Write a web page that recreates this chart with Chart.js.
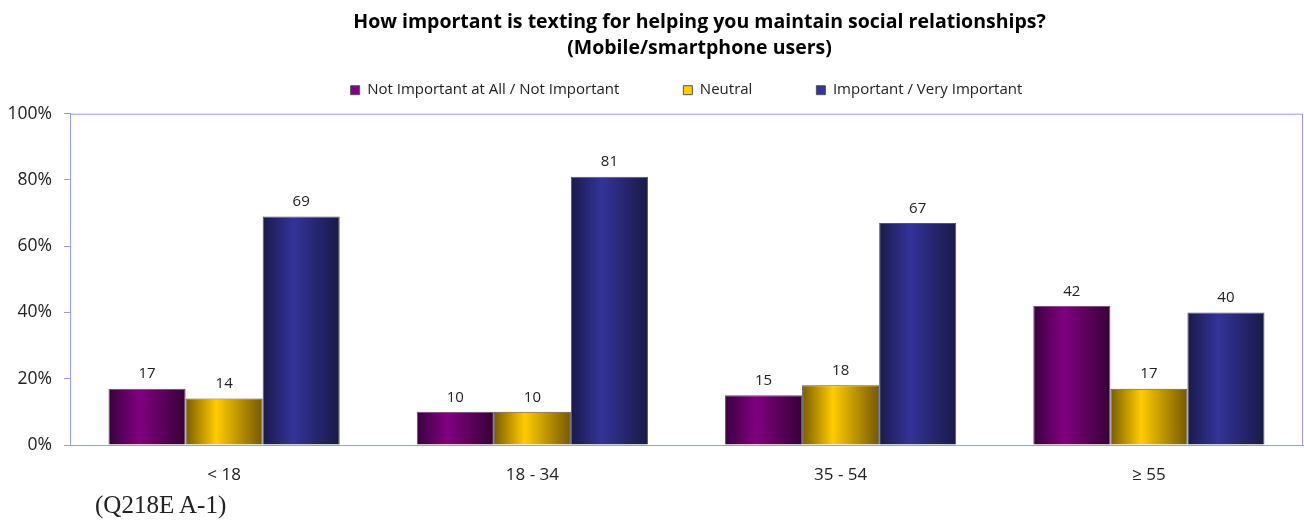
<!DOCTYPE html>
<html>
<head>
<meta charset="utf-8">
<script src="https://cdn.jsdelivr.net/npm/chart.js@4/dist/chart.umd.min.js"></script>
<style>
  html, body { margin: 0; padding: 0; background: #fff; }
  #wrap { position: relative; width: 1304px; height: 523px; }
  #note { position: absolute; left: 95px; top: 489px; font: 25px/32px "Liberation Serif", "DejaVu Serif", serif; color: #222; }
</style>
</head>
<body>
<div id="wrap">
  <canvas id="grafico" width="1304" height="523"></canvas>
  <div id="note">(Q218E A-1)</div>
</div>
<script>
// Dados
const categorias = ["< 18", "18 - 34", "35 - 54", "\u2265 55"];
const naoImportante = [17, 10, 15, 42];
const neutro = [14, 10, 18, 17];
const importante = [69, 81, 67, 40];
const ticksY = [0, 20, 40, 60, 80, 100];

// cores: borda escura, centro claro
const gradientes = [
  ["#3a0040", "#800080", "#360036"],
  ["#7a5c00", "#ffcc00", "#765800"],
  ["#1a1a4c", "#333399", "#191946"],
];

const font = "'Open Sans', 'Noto Sans', sans-serif";
const legendaPad = 64;   // espaço entre itens da legenda
const legendaAltura = 45;
const legendaDesloca = 50;
const tituloDesloca = 48;

// legenda larga sem ficar alta; título um pouco à direita
const ajustePlugin = {
  id: "ajustePlugin",
  beforeUpdate(chart) {
    const lg = chart.legend;
    if (lg && !lg._ajustada) {
      lg._ajustada = true;
      const fit = lg.fit;
      lg.fit = function () {
        fit.call(this);
        this.height = legendaAltura;
      };
      const drawItens = lg._draw;
      lg._draw = function () {
        const c = this.ctx;
        c.save();
        c.translate(0, -legendaDesloca);
        drawItens.call(this);
        c.restore();
      };
    }
    const tb = chart.titleBlock;
    if (tb && !tb._ajustado) {
      tb._ajustado = true;
      const drawT = tb.draw;
      tb.draw = function () {
        const c = this.ctx;
        c.save();
        c.translate(tituloDesloca, 0);
        drawT.call(this);
        c.restore();
      };
    }
  },
};

// pinta cada barra com gradiente horizontal
const gradPlugin = {
  id: "gradPlugin",
  beforeDatasetsDraw(chart) {
    const ctx = chart.ctx;
    chart.data.datasets.forEach((ds, i) => {
      const meta = chart.getDatasetMeta(i);
      const c = gradientes[i];
      meta.data.forEach((el) => {
        const x0 = el.x - el.width / 2;
        const g = ctx.createLinearGradient(x0, 0, x0 + el.width, 0);
        g.addColorStop(0, c[0]);
        g.addColorStop(0.4, c[1]);
        g.addColorStop(1, c[2]);
        const o = Object.assign({}, el.options);
        o.backgroundColor = g;
        o.$shared = false;
        el.options = o;
      });
    });
  },
  afterDatasetsDraw(chart) {
    const ctx = chart.ctx;
    const a = chart.chartArea;
    ctx.save();
    // moldura
    ctx.strokeStyle = "#9999ff";
    ctx.lineWidth = 1;
    ctx.strokeRect(a.left + 0.5, a.top + 0.5, a.right - a.left - 1, a.bottom - a.top);
    // rótulos
    ctx.fillStyle = "#222";
    ctx.font = "15px " + font;
    ctx.textAlign = "center";
    ctx.textBaseline = "bottom";
    chart.data.datasets.forEach((ds, i) => {
      chart.getDatasetMeta(i).data.forEach((el, j) => {
        ctx.fillText(ds.data[j], el.x, el.y - 7);
      });
    });
    ctx.restore();
  },
};

new Chart(document.getElementById("grafico"), {
  type: "bar",
  data: {
    labels: categorias,
    datasets: [
      { label: "Not Important at All / Not Important", data: naoImportante, backgroundColor: "#800080", borderColor: "#555", borderWidth: 1 },
      { label: "Neutral", data: neutro, backgroundColor: "#ffcc00", borderColor: "#555", borderWidth: 1 },
      { label: "Important / Very Important", data: importante, backgroundColor: "#333399", borderColor: "#555", borderWidth: 1 },
    ],
  },
  options: {
    responsive: false,
    animation: false,
    layout: { padding: { left: 0, right: 1, top: 0, bottom: 0 } },
    datasets: { bar: { categoryPercentage: 0.75, barPercentage: 1 } },
    scales: {
      x: {
        grid: { display: false },
        border: { color: "#9999ff" },
        ticks: { color: "#222", font: { family: font, size: 17 }, padding: 12 },
        afterFit(s) { s.height = 78; },
      },
      y: {
        min: 0,
        max: 100,
        afterBuildTicks(s) { s.ticks = ticksY.map((v) => ({ value: v })); },
        grid: { drawOnChartArea: false, color: "#9999ff", tickLength: 6 },
        border: { color: "#9999ff" },
        ticks: { color: "#222", font: { family: font, size: 17.5 }, padding: 12, callback: (v) => v + "%" },
        afterFit(s) { s.width = 70; },
      },
    },
    plugins: {
      title: {
        display: true,
        text: ["How important is texting for helping you maintain social relationships?", "(Mobile/smartphone users)"],
        color: "#000",
        font: { family: font, size: 19.5, weight: "bold", lineHeight: 1.3 },
        padding: { top: 10, bottom: 8 },
      },
      legend: {
        position: "top",
        fullSize: false,
        labels: { color: "#222", font: { family: font, size: 15 }, boxWidth: 9, boxHeight: 9, padding: legendaPad },
      },
      tooltip: { enabled: false },
    },
  },
  plugins: [ajustePlugin, gradPlugin],
});
</script>
</body>
</html>
